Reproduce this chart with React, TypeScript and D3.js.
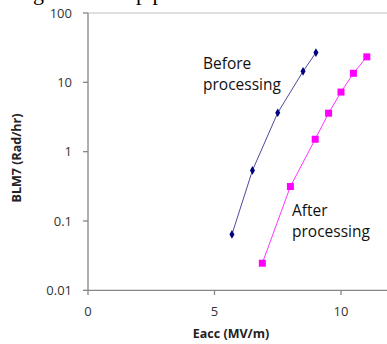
import React from "react";
import * as d3 from "d3";

const beforeX = [5.69, 6.5, 7.5, 8.5, 9.01];
const beforeY = [0.064, 0.536, 3.64, 14.4, 26.9];
const afterX = [6.89, 8.0, 8.98, 9.51, 10.0, 10.49, 11.02];
const afterY = [0.0246, 0.314, 1.51, 3.59, 7.23, 13.5, 23.3];
const xTicks = [0, 5, 10];
const yTicks = [0.01, 0.1, 1, 10, 100];
const yTickLabels = ["0.01", "0.1", "1", "10", "100"];

const W = 387, H = 344;
const x = d3.scaleLinear().domain([0, 12]).range([88, 391.6]);
const y = d3.scaleLog().domain([0.01, 100]).range([290.3, 13]);

export default function App() {
  const line = d3.line<[number, number]>().x(d => x(d[0])).y(d => y(d[1]));
  const before = beforeX.map((v, i) => [v, beforeY[i]] as [number, number]);
  const after = afterX.map((v, i) => [v, afterY[i]] as [number, number]);
  const font = "'Open Sans', sans-serif";
  return (
    <svg width={W} height={H} style={{ position: "absolute", left: 0, top: 0, background: "#fff" }}>
      <rect width={W} height={H} fill="#fff" />
      <text x={33} y={0} fontFamily="'Liberation Serif', serif" fontSize={22} fill="#000">g</text>
      <text x={136} y={0} fontFamily="'Liberation Serif', serif" fontSize={22} fill="#000">p p</text>
      <line x1={88} x2={W} y1={y(100)} y2={y(100)} stroke="#bfbfbf" strokeWidth={1} />
      <line x1={88} x2={88} y1={y(100)} y2={y(0.01)} stroke="#868686" strokeWidth={1.3} />
      <line x1={88} x2={W} y1={y(0.01)} y2={y(0.01)} stroke="#868686" strokeWidth={1.3} />
      {yTicks.map((t, i) => (
        <g key={"y" + i}>
          <line x1={83} x2={88} y1={y(t)} y2={y(t)} stroke="#868686" strokeWidth={1.3} />
          <text x={72} y={y(t)} dy="0.36em" textAnchor="end" fontFamily={font} fontSize={13} fill="#333">{yTickLabels[i]}</text>
        </g>
      ))}
      {xTicks.map((t, i) => (
        <g key={"x" + i}>
          <line x1={x(t)} x2={x(t)} y1={290.3} y2={295} stroke="#868686" strokeWidth={1.3} />
          <text x={x(t)} y={316} textAnchor="middle" fontFamily={font} fontSize={13} fill="#333">{t}</text>
        </g>
      ))}
      <text x={231} y={338} textAnchor="middle" fontFamily={font} fontWeight="bold" fontSize={12.5} fill="#222">Eacc (MV/m)</text>
      <text transform="translate(21,158) rotate(-90)" textAnchor="middle" fontFamily={font} fontWeight="bold" fontSize={12.5} fill="#222">BLM7 (Rad/hr)</text>
      <path d={line(before) || ""} fill="none" stroke="#4a4a9a" strokeWidth={1} />
      {before.map((d, i) => (
        <path key={"b" + i} d={d3.symbol(d3.symbolDiamond, 22)() || ""} transform={`translate(${x(d[0])},${y(d[1])})`} fill="#000080" />
      ))}
      <path d={line(after) || ""} fill="none" stroke="#ff33ff" strokeWidth={1} />
      {after.map((d, i) => (
        <rect key={"a" + i} x={x(d[0]) - 3.5} y={y(d[1]) - 3.5} width={7} height={7} fill="#ff00ff" />
      ))}
      <text x={203} y={69} fontFamily={font} fontSize={15.5} fill="#111">Before</text>
      <text x={203} y={90} fontFamily={font} fontSize={15.5} fill="#111">processing</text>
      <text x={292} y={216} fontFamily={font} fontSize={15.5} fill="#111">After</text>
      <text x={292} y={237} fontFamily={font} fontSize={15.5} fill="#111">processing</text>
    </svg>
  );
}
